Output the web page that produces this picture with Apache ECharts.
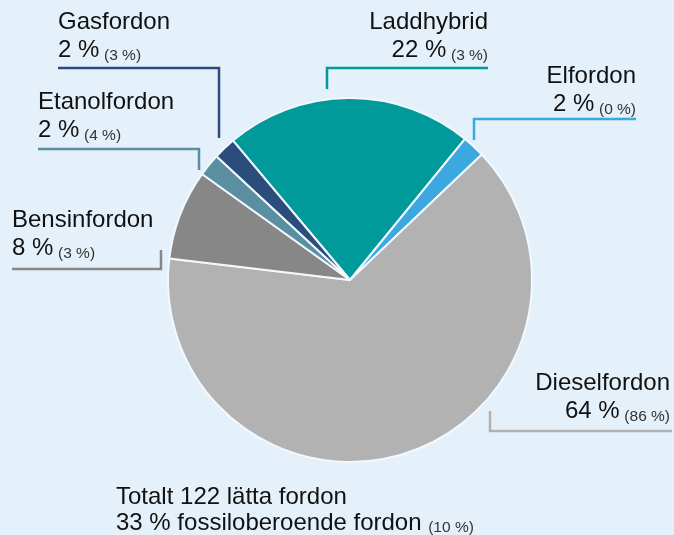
<!DOCTYPE html>
<html>
<head>
<meta charset="utf-8">
<script src="https://cdn.jsdelivr.net/npm/echarts@6/dist/echarts.min.js"></script>
<style>
html,body{margin:0;padding:0;background:#E5F1FA;}
#c{width:674px;height:535px;}
</style>
</head>
<body>
<div id="c"></div>
<script>
// andel lätta fordon per drivmedel, i % (föregående år inom parentes)
const names  = ['Laddhybrid','Elfordon','Dieselfordon','Bensinfordon','Etanolfordon','Gasfordon'];
const shares = [22, 2, 64, 8, 2, 2];
const prev   = [3, 0, 86, 3, 4, 3];
const colors = ['#009A9A','#3BA9E0','#B2B2B2','#878787','#5A8FA2','#2A4D7B'];
const total = 122, fossilFree = 33, fossilFreePrev = 10;

// label placement: anchor x, top y, align, leader line points (slice end -> corner -> text end)
const LAY = [
  {x:488, y:8,   align:'right', pts:[[327,89],[327,68],[488,68]]},
  {x:636, y:62,  align:'right', pts:[[474,140],[474,119],[636,119]]},
  {x:670, y:369, align:'right', pts:[[490,411],[490,431],[672,431]]},
  {x:12,  y:206, align:'left',  pts:[[161,250],[161,269],[12,269]]},
  {x:38,  y:88,  align:'left',  pts:[[199,170],[199,149],[38,149]]},
  {x:58,  y:8,   align:'left',  pts:[[219,138],[219,68],[58,68]]}
];

const FONT = '"Liberation Sans", Arial, sans-serif';
const rich = {
  n:{fontSize:24,lineHeight:28,color:'#111',fontFamily:FONT},
  v:{fontSize:24,lineHeight:28,color:'#111',fontFamily:FONT},
  s:{fontSize:15.5,lineHeight:23,verticalAlign:'bottom',color:'#333',fontFamily:FONT,padding:[0,0,0,-2]}
};

const chart = echarts.init(document.getElementById('c'), null, {renderer:'canvas'});
chart.setOption({
  backgroundColor:'#E5F1FA',
  animation:false,
  title:{
    left:116, top:484, padding:0,
    text:'{a|Totalt '+total+' lätta fordon}\n{a|'+fossilFree+' % fossiloberoende fordon }{s|('+fossilFreePrev+' %)}',
    textStyle:{fontWeight:'normal',rich:{
      a:{fontSize:24,lineHeight:26,fontWeight:'normal',color:'#111',fontFamily:FONT},
      s:{fontSize:15.5,lineHeight:21,verticalAlign:'bottom',fontWeight:'normal',color:'#333',fontFamily:FONT}
    }}
  },
  series:[{
    type:'pie',
    center:[350,280],
    radius:182,
    startAngle:130,
    clockwise:true,
    avoidLabelOverlap:false,
    itemStyle:{borderColor:'#F2F8FD',borderWidth:2},
    label:{
      show:true, position:'outside', rich,
      formatter:p => '{n|'+p.name+'}\n{v|'+p.value+' % }{s|('+prev[p.dataIndex]+' %)}'
    },
    labelLine:{show:true, lineStyle:{width:2.5}},
    labelLayout:p => {
      const l = LAY[p.dataIndex];
      return {x:l.x, y:l.y, align:l.align, verticalAlign:'top', labelLinePoints:l.pts};
    },
    data:names.map((n,i)=>({
      name:n, value:shares[i],
      itemStyle:{color:colors[i]},
      labelLine:{lineStyle:{color:colors[i]}}
    }))
  }]
});
</script>
</body>
</html>
